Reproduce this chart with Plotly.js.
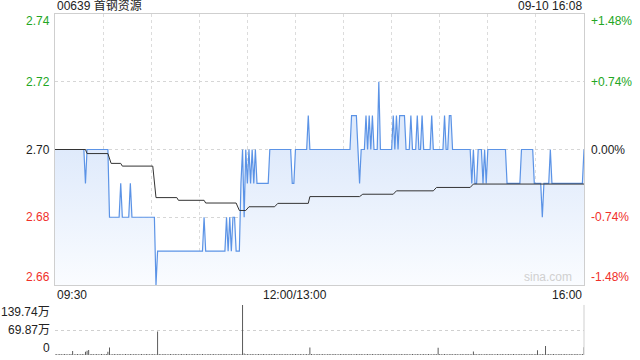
<!DOCTYPE html>
<html><head><meta charset="utf-8">
<script src="https://cdn.plot.ly/plotly-3.0.1.min.js"></script>
<style>html,body{margin:0;padding:0;background:#fff}#chart{width:640px;height:360px}</style>
</head><body><div id="chart"></div>
<script>
// minutes since 09:30 (trading minutes, lunch removed; 150 = 12:00/13:00, 330 = 16:00)
const priceMin = [0,18,19,20,33,34,40,41,42,46,47,48,62,63,64,92,93,94,106,107,108,109,110,111,112,113,115,116,117,118,119,120,121,122,123,124,125,126,133,134,147,148,149,150,157,158,159,184,185,188,189,190,191,193,194,195,196,197,198,199,201,202,203,210,211,212,213,214,215,218,219,221,222,223,225,226,227,228,229,230,234,235,236,242,243,244,245,246,247,248,259,260,261,262,263,264,266,267,268,269,270,281,282,290,291,298,299,303,304,305,308,309,310,329,330];
const priceVal = [2.70,2.70,2.69,2.70,2.70,2.68,2.68,2.69,2.68,2.68,2.69,2.68,2.68,2.66,2.67,2.67,2.68,2.67,2.67,2.68,2.67,2.68,2.67,2.68,2.68,2.67,2.67,2.69,2.70,2.68,2.70,2.69,2.70,2.69,2.70,2.69,2.70,2.69,2.69,2.70,2.70,2.69,2.69,2.70,2.70,2.71,2.70,2.70,2.71,2.71,2.70,2.69,2.70,2.70,2.71,2.70,2.71,2.70,2.71,2.70,2.70,2.72,2.70,2.70,2.71,2.70,2.71,2.70,2.71,2.71,2.70,2.70,2.71,2.70,2.70,2.71,2.70,2.70,2.71,2.70,2.70,2.71,2.70,2.70,2.71,2.70,2.70,2.71,2.71,2.70,2.70,2.69,2.70,2.69,2.69,2.70,2.70,2.69,2.70,2.69,2.70,2.70,2.69,2.69,2.70,2.70,2.69,2.69,2.68,2.69,2.69,2.70,2.69,2.69,2.70];

const avgMin = [0,19,20,33,35,41,42,61,63,76,77,93,94,113,115,119,121,137,139,158,159,190,192,211,213,236,238,259,261,330];
const avgVal = [2.70,2.70,2.6988,2.6988,2.6959,2.6959,2.6951,2.6951,2.6858,2.6858,2.6850,2.6850,2.6842,2.6842,2.6820,2.6820,2.6831,2.6831,2.6841,2.6841,2.6861,2.6861,2.6868,2.6868,2.6878,2.6878,2.6888,2.6888,2.6898,2.6898];

// volume per minute (万 shares), minute 0..330
const volVal = [
  3,2,2,3,2,2,3,2,2,2,3,11,2,2,3,2,2,3,2,9,12,14,2,3,2,2,3,2,2,3,
  2,2,3,9,21,2,2,3,2,2,3,2,2,2,3,2,2,3,2,2,3,2,2,2,3,2,2,3,2,2,
  2,3,2,2,66,3,2,2,3,2,2,2,3,2,2,3,2,2,2,3,2,2,3,2,2,2,3,2,2,3,
  2,2,3,2,2,2,3,2,2,3,2,2,2,3,2,2,3,2,2,2,3,2,2,3,2,2,2,139.74,4,2,
  3,2,2,3,2,2,2,3,2,2,3,2,2,2,3,2,2,3,2,2,2,3,2,2,3,2,2,2,3,2,
  3,2,2,3,2,2,2,3,2,21,3,2,2,2,3,2,2,3,2,2,2,3,2,2,3,2,2,2,3,2,
  2,3,2,2,3,2,2,2,3,2,2,3,2,2,2,3,2,2,3,2,2,2,3,2,2,3,2,2,2,3,
  2,2,3,2,2,2,3,2,2,3,2,2,2,3,2,2,3,2,2,2,3,2,2,3,2,2,2,3,2,20,
  3,2,2,3,2,2,2,3,2,2,3,2,2,2,3,2,2,3,2,2,2,10,3,2,2,3,2,2,2,3,
  2,2,3,2,2,2,3,2,2,3,2,2,2,3,2,2,3,2,2,2,3,2,2,3,2,2,2,3,2,2,
  3,13,2,2,3,2,25,2,3,2,2,3,2,2,2,3,2,2,3,2,2,2,3,2,2,3,2,2,2,3,
  22
];
const volMin = volVal.map((v,i)=>i);

const leftTicks = [2.74,2.72,2.70,2.68,2.66];
const leftText = ['2.74','2.72','2.70','2.68','2.66'];
const rightText = ['+1.48%','+0.74%','0.00%','-0.74%','-1.48%'];
const tickColors = ['#23a623','#23a623','#222','#f0302a','#f0302a'];
const volTicks = [139.74,69.87,0];
const volText = ['139.74万','69.87万','0'];
const xLabels = ['09:30','12:00/13:00','16:00'];
const xLabelPos = [0,150,330];

const FONT = 'Liberation Sans, Arial, Noto Sans CJK SC, sans-serif';

const traces = [
  {x: priceMin, y: priceVal, type:'scatter', mode:'lines', xaxis:'x', yaxis:'y',
   line:{color:'#5b93e6', width:1.2}, fill:'tozeroy',
   fillgradient:{type:'vertical', start:2.66, stop:2.70,
     colorscale:[[0,'rgb(250,252,255)'],[1,'rgb(223,234,251)']]},
   hoverinfo:'skip'},
  {x: avgMin, y: avgVal, type:'scatter', mode:'lines', xaxis:'x', yaxis:'y',
   line:{color:'#333', width:1}, hoverinfo:'skip'},
  {x: volMin, y: volVal, type:'bar', xaxis:'x2', yaxis:'y2', width:0.6,
   marker:{color:'#555', line:{width:0}}, hoverinfo:'skip'}
];

const mainBottom = 70/341;
const volTop = 50.27/341;

const annotations = [];
leftTicks.forEach((v,i)=>{
  const ys = i===0 ? -7 : (i===leftTicks.length-1 ? 8 : 0);
  annotations.push({xref:'paper', yref:'y', x:0, y:v, xanchor:'right', yanchor:'middle', xshift:-3, yshift:ys,
    text:leftText[i], showarrow:false, font:{family:FONT, size:12, color:tickColors[i]}});
  annotations.push({xref:'paper', yref:'y', x:1, y:v, xanchor:'left', yanchor:'middle', xshift:5, yshift:ys,
    text:rightText[i], showarrow:false, font:{family:FONT, size:12, color:tickColors[i]}});
});
volTicks.forEach((v,i)=>{
  const ys = i===0 ? -7 : (i===volTicks.length-1 ? 7 : 0);
  annotations.push({xref:'paper', yref:'y2', x:0, y:v, xanchor:'right', yanchor:'middle', xshift:-3, yshift:ys,
    text:volText[i], showarrow:false, font:{family:FONT, size:12, color:'#222'}});
});
xLabels.forEach((t,i)=>{
  annotations.push({xref:'x', yref:'paper', x:xLabelPos[i], y:mainBottom, yanchor:'top', yshift:-1,
    xanchor: i===0 ? 'left' : (i===xLabels.length-1 ? 'right' : 'center'),
    text:t, showarrow:false, font:{family:FONT, size:12, color:'#222'}});
});
annotations.push({xref:'paper', yref:'paper', x:0, y:1, xanchor:'left', yanchor:'bottom', yshift:-1,
  text:'00639 首钢资源', showarrow:false, font:{family:FONT, size:12, color:'#222'}});
annotations.push({xref:'paper', yref:'paper', x:1, y:1, xanchor:'right', yanchor:'bottom', yshift:-1,
  text:'09-10 16:08', showarrow:false, font:{family:FONT, size:12, color:'#222'}});
annotations.push({xref:'paper', yref:'paper', x:1, y:mainBottom, xanchor:'right', yanchor:'bottom', xshift:-10, yshift:-1,
  text:'sina.com', showarrow:false, font:{family:FONT, size:12, color:'#d0d0d0'}});

const layout = {
  width:640, height:360,
  margin:{l:55, r:56, t:14, b:5},
  paper_bgcolor:'#fff', plot_bgcolor:'#fff',
  showlegend:false,
  xaxis:{domain:[0,1], range:[0,330], anchor:'y',
    tickvals:[30,60,90,120,150,180,210,240,270,300], showticklabels:false, ticks:'',
    showgrid:true, gridcolor:'#dcdcdc', griddash:'dot', gridwidth:1,
    showline:true, mirror:true, linecolor:'#cfcfcf', linewidth:1, zeroline:false, fixedrange:true},
  yaxis:{domain:[mainBottom,1], range:[2.66,2.74], anchor:'x',
    tickvals:[2.68,2.70,2.72], showticklabels:false, ticks:'',
    showgrid:true, gridcolor:'#d6d6d6', griddash:'dot', gridwidth:1,
    showline:true, mirror:true, linecolor:'#cfcfcf', linewidth:1, zeroline:false, fixedrange:true},
  xaxis2:{domain:[0,1], range:[0,330], anchor:'y2', showgrid:false, showticklabels:false, ticks:'',
    showline:false, zeroline:false, fixedrange:true},
  yaxis2:{domain:[0,volTop], range:[0,140.5], anchor:'x2',
    tickvals:[69.87,139.74], showticklabels:false, ticks:'',
    showgrid:true, gridcolor:'#d0d0d0', griddash:'dot', gridwidth:1,
    showline:false, zeroline:false, fixedrange:true},
  shapes:[{type:'line', xref:'paper', yref:'y2', x0:1, x1:1, y0:0, y1:140.5, line:{color:'#cfcfcf', width:1}}],
  annotations: annotations
};

Plotly.newPlot('chart', traces, layout, {displayModeBar:false, staticPlot:true});
</script>
</body></html>
